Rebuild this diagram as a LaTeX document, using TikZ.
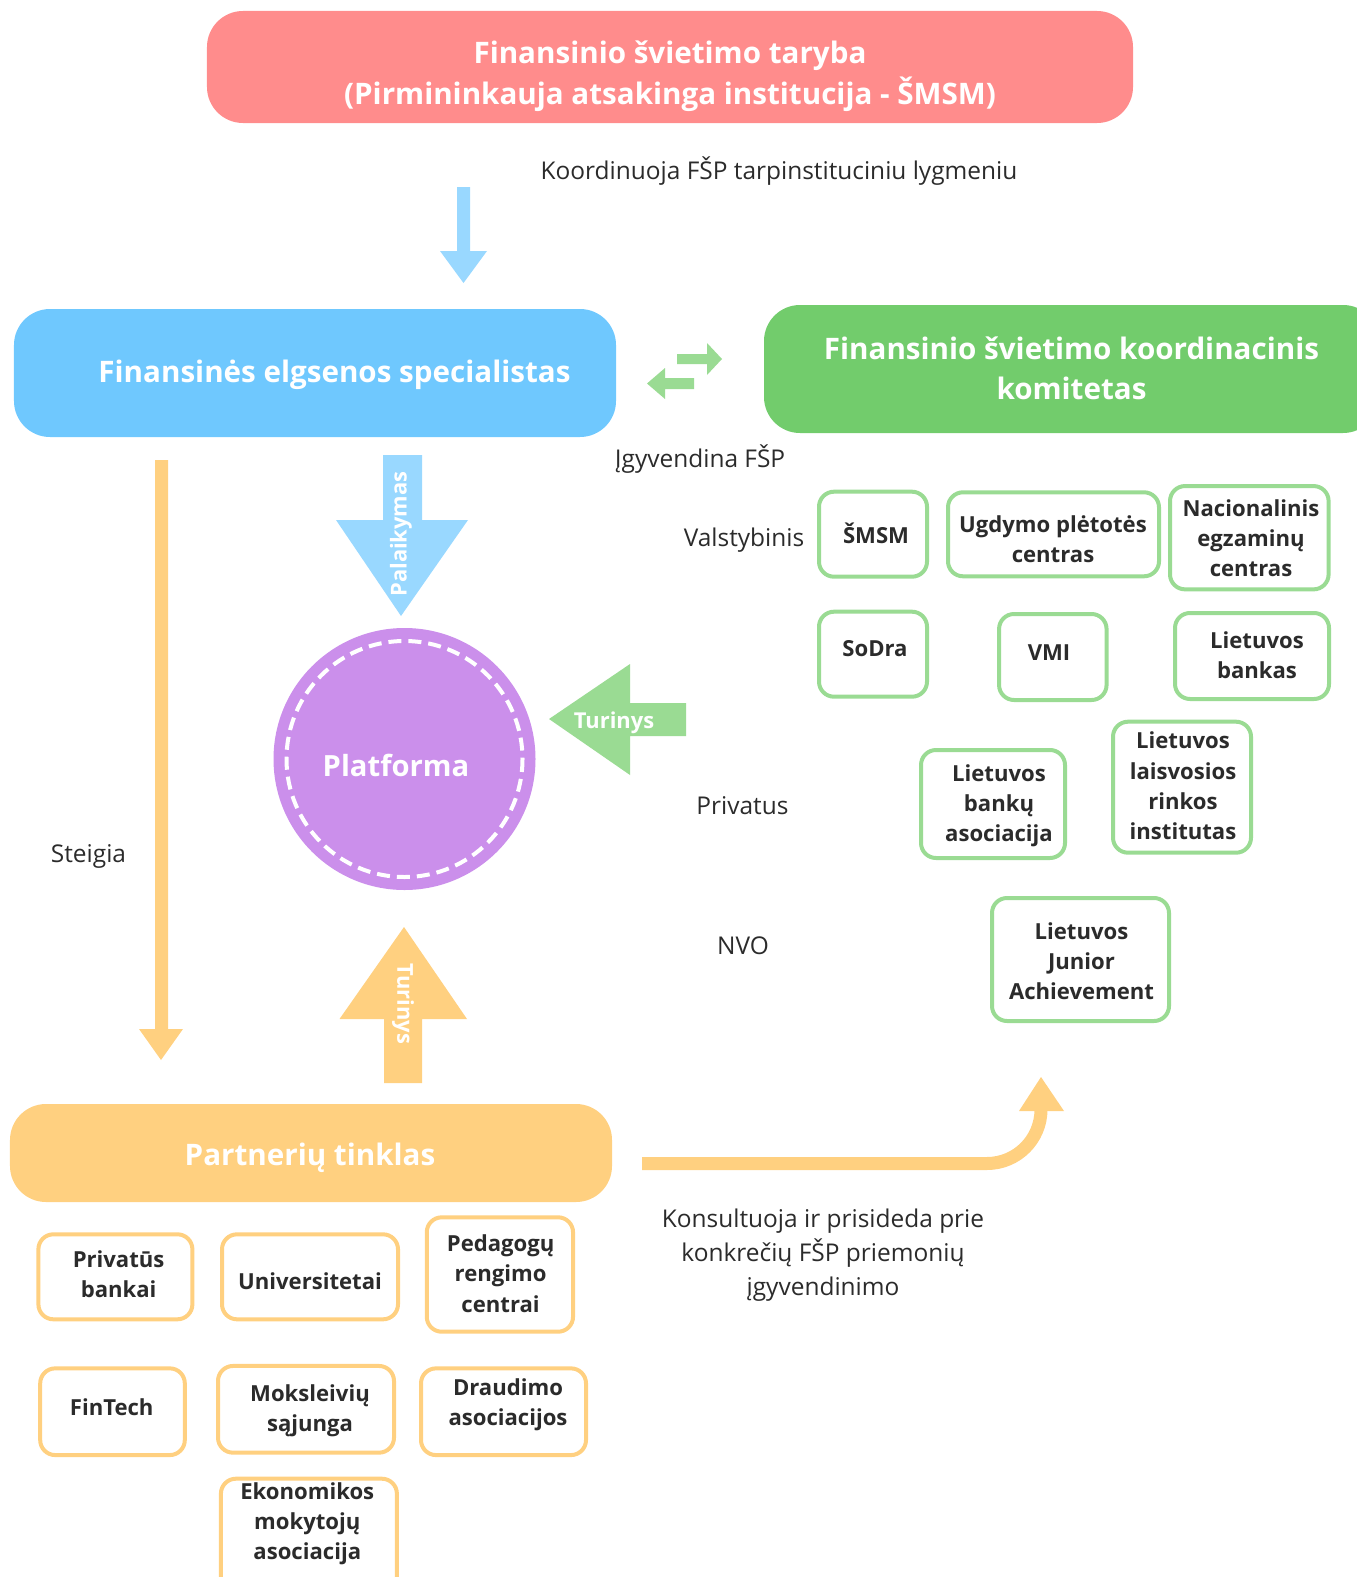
\documentclass[tikz,border=0pt]{standalone}
\usepackage{fontspec}
\setmainfont{Open Sans}
\newcommand{\fsz}[2]{\fontsize{#1bp}{#2bp}\selectfont}
\definecolor{redbox}{HTML}{FF8C8C}
\definecolor{bluebox}{HTML}{6FC8FE}
\definecolor{lblue}{HTML}{99D8FF}
\definecolor{greenbox}{HTML}{72CC6C}
\definecolor{lgreen}{HTML}{9ADB93}
\definecolor{purp}{HTML}{CB8FEB}
\definecolor{orng}{HTML}{FFD080}
\definecolor{txt}{HTML}{2B2B2B}
\begin{document}
\begin{tikzpicture}[x=1bp,y=-1bp,
  bigbox/.style={rounded corners=36bp, inner sep=0pt},
  bigtext/.style={inner sep=0pt, text=white, align=center, font=\bfseries\fsz{29.6}{40.2}},
  gbox/.style={draw=lgreen, line width=4bp, rounded corners=15bp, fill=white, inner sep=0pt},
  obox/.style={gbox, draw=orng},
  stext/.style={inner sep=0pt, align=center, text=txt, font=\bfseries\fsz{22.1}{30.2}},
  lbl/.style={text=txt, font=\fsz{24.45}{34.2}, align=center, inner sep=0pt},
  arrtext/.style={text=white, font=\bfseries\fsz{21.9}{24}, inner sep=0pt}
]
\useasboundingbox (0,0) rectangle (1357,1577);

% big boxes
\node[bigbox, fill=redbox, minimum width=926bp, minimum height=112bp] (council) at (670,67) {};
\node[bigtext, font=\bfseries\fsz{29.6}{41.5}] (councilt) at (670,76) {Finansinio švietimo taryba\\(Pirmininkauja atsakinga institucija - ŠMSM)};
\node[bigbox, fill=bluebox, minimum width=602bp, minimum height=128bp] (spec) at (315,373) {};
\node[bigtext] (spect) at (334.5,375) {Finansinės elgsenos specialistas};
\node[bigbox, fill=greenbox, minimum width=615bp, minimum height=128bp] (committee) at (1071.5,369) {};
\node[bigtext] (committeet) at (1071.5,368) {Finansinio švietimo koordinacinis\\komitetas};
\node[bigbox, fill=orng, minimum width=602bp, minimum height=98bp] (network) at (311,1153) {};
\node[bigtext] (networkt) at (310,1158) {Partnerių tinklas};

% platform
\node[circle, fill=purp, minimum size=262bp, inner sep=0pt] (platform) at (404.5,759) {};
\draw[white, line width=4bp, dash pattern=on 13bp off 7bp] (platform.center) circle[radius=118];
\node[bigtext, font=\bfseries\fsz{29.2}{34}] (platformt) at (396,765) {Platforma};

% blue arrow from council
\fill[lblue] (457,187) -- (470,187) -- (470,251) -- (487,251) -- (463.5,283) -- (440,251) -- (457,251) -- cycle;

% double arrows
\fill[lgreen] (677,354) -- (707,354) -- (707,343) -- (722,359) -- (707,375) -- (707,364) -- (677,364) -- cycle;
\fill[lgreen] (694,378) -- (665,378) -- (665,368) -- (647,383.5) -- (665,399) -- (665,389) -- (694,389) -- cycle;

% Palaikymas
\fill[lblue] (383,455) -- (422,455) -- (422,520) -- (468,520) -- (401,616) -- (336,520) -- (383,520) -- cycle;
\node[arrtext, rotate=90] (palaik) at (401,534) {Palaikymas};

% Turinys green
\fill[lgreen] (686,703) -- (686,736) -- (630,736) -- (630,775) -- (549,719) -- (630,664) -- (630,703) -- cycle;
\node[arrtext] (turg) at (614,723) {Turinys};

% Turinys orange
\fill[orng] (384,1083) -- (422,1083) -- (422,1019) -- (467,1019) -- (404,927) -- (339.5,1019) -- (384,1019) -- cycle;
\node[arrtext, rotate=-90] (turo) at (403,1004) {Turinys};

% Steigia arrow
\fill[orng] (155,460) -- (168,460) -- (168,1029) -- (183,1029) -- (161,1060) -- (139,1029) -- (155,1029) -- cycle;

% curved orange arrow
\coordinate (cs) at (642,1163.5);
\coordinate (ce) at (1041,1109.5);
\draw[orng, line width=13bp] (cs) -- (987,1163.5) arc[start angle=90, end angle=0, radius=54] -- (ce);
\fill[orng] (1019,1111) -- (1064,1111) -- (1041,1077) -- cycle;

% labels
\node[lbl] (l1) at (779,171) {Koordinuoja FŠP tarpinstituciniu lygmeniu};
\node[lbl] (l2) at (700,459) {Įgyvendina FŠP};
\node[lbl] (l3) at (744,540) {Valstybinis};
\node[lbl] (l4) at (742.5,806) {Privatus};
\node[lbl] (l5) at (743,946) {NVO};
\node[lbl] (l6) at (88.5,856) {Steigia};
\node[lbl] (l7) at (823,1255) {Konsultuoja ir prisideda prie\\konkrečių FŠP priemonių\\įgyvendinimo};

% green boxes
\node[gbox, minimum width=108bp, minimum height=85bp] (smsm) at (873,534.2) {};
\node[stext] (smsmt) at (876,533) {ŠMSM};
\node[gbox, minimum width=211bp, minimum height=84bp] (ugd) at (1053.5,534.3) {};
\node[stext] (ugdt) at (1053,539.5) {Ugdymo plėtotės\\centras};
\node[gbox, minimum width=158.6bp, minimum height=103.3bp] (nec) at (1249.3,537.7) {};
\node[stext] (nect) at (1251,538.5) {Nacionalinis\\egzaminų\\centras};
\node[gbox, minimum width=108bp, minimum height=85bp] (sodra) at (873,654.2) {};
\node[stext] (sodrat) at (875,649) {SoDra};
\node[gbox, minimum width=107.5bp, minimum height=86bp] (vmi) at (1052.8,657) {};
\node[stext] (vmit) at (1049,653) {VMI};
\node[gbox, minimum width=154bp, minimum height=86bp] (lb) at (1252,656) {};
\node[stext] (lbt) at (1257,655) {Lietuvos\\bankas};
\node[gbox, minimum width=144bp, minimum height=108bp] (lba) at (993,804) {};
\node[stext] (lbat) at (999,806) {Lietuvos\\bankų\\asociacija};
\node[gbox, minimum width=138bp, minimum height=131bp] (llri) at (1182,787.2) {};
\node[stext] (llrit) at (1183,786) {Lietuvos\\laisvosios\\rinkos\\institutas};
\node[gbox, minimum width=177bp, minimum height=123bp] (lja) at (1080.5,959.5) {};
\node[stext] (ljat) at (1081.5,961.5) {Lietuvos\\Junior\\Achievement};

% orange boxes
\node[obox, minimum width=154bp, minimum height=85bp] (pb) at (115.4,1276.8) {};
\node[stext] (pbt) at (118.6,1274.5) {Privatūs\\bankai};
\node[obox, minimum width=176bp, minimum height=85bp] (univ) at (310,1276.8) {};
\node[stext] (univt) at (310,1281) {Universitetai};
\node[obox, minimum width=146.3bp, minimum height=114.4bp] (ped) at (499.9,1274.5) {};
\node[stext] (pedt) at (500.6,1273.5) {Pedagogų\\rengimo\\centrai};
\node[obox, minimum width=144.6bp, minimum height=86.7bp] (fin) at (112.5,1411.7) {};
\node[stext] (fint) at (111.7,1407) {FinTech};
\node[obox, minimum width=176bp, minimum height=86.7bp] (mok) at (306,1409.3) {};
\node[stext] (mokt) at (310,1410.5) {Moksleivių\\sąjunga};
\node[obox, minimum width=165bp, minimum height=86.7bp] (drau) at (503.5,1411.7) {};
\node[stext] (draut) at (508,1404.5) {Draudimo\\asociacijos};
\node[obox, minimum width=176bp, minimum height=130bp, anchor=north] (eko) at (308.9,1476.7) {};
\node[stext] (ekot) at (307.3,1523.5) {Ekonomikos\\mokytojų\\asociacija};
\end{tikzpicture}
\end{document}
